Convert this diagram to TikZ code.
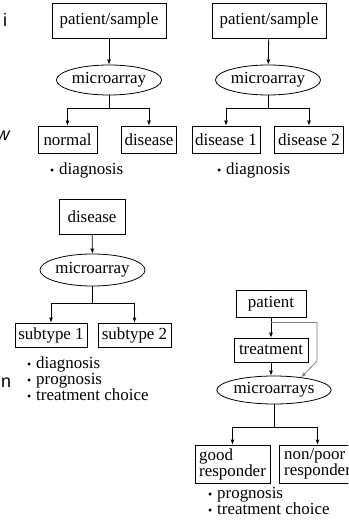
\documentclass[tikz,border=0pt]{standalone}
\usepackage{fontspec}
\setmainfont{Liberation Serif}
\newfontfamily\sidefont{Liberation Sans}
\usetikzlibrary{arrows.meta,positioning,shapes.geometric,calc}
\newcommand{\boxfont}{\fontsize{17}{16}\selectfont}
\newcommand{\bul}{\makebox[9bp][l]{\fontsize{12}{12}\selectfont\textbullet}}
\tikzset{
  box/.style={draw, rectangle, inner xsep=3pt, inner ysep=0pt, minimum height=27bp, font=\boxfont, line width=0.8pt},
  ell/.style={draw, ellipse, inner sep=0pt, minimum height=30bp, font=\boxfont, line width=0.8pt},
  arr/.style={-{Latex[length=5bp, width=4bp]}, line width=0.8pt},
  ln/.style={line width=0.8pt},
  note/.style={anchor=west, align=left, inner sep=0pt, font=\boxfont},
  cut/.style={inner sep=0pt, font=\sidefont\fontsize{18}{18}\selectfont}
}
\begin{document}
\begin{tikzpicture}[x=1bp, y=-1bp]
  \useasboundingbox (0,0) rectangle (348,525);
  \clip (0,0) rectangle (348,525);
  % normal vs disease
  \node[box, minimum width=114bp, minimum height=35bp] (ps1) at (109,20.5) {patient/sample};
  \node[ell, minimum width=101bp] (ma1) at (109,80) {microarray};
  \node[box, minimum width=59bp] (nor) at (67.5,139.5) {normal};
  \node[box, minimum width=55bp] (dis1) at (149,139.5) {disease};
  \coordinate (j1) at (109,108);
  \draw[arr] (ps1) -- (ma1);
  \draw[ln] (ma1) -- (j1);
  \draw[arr] (j1) -| (nor);
  \draw[arr] (j1) -| (dis1);
  \node[note] (dg1) at (50,170) {\bul diagnosis};
  % disease 1 vs disease 2
  \node[box, minimum width=114bp, minimum height=35bp] (ps2) at (269,20.5) {patient/sample};
  \node[ell, minimum width=100bp] (ma2) at (268,80) {microarray};
  \node[box, minimum width=68bp] (d1) at (226,139.5) {disease 1};
  \node[box, minimum width=69bp] (d2) at (309,139.5) {disease 2};
  \coordinate (j2) at (268,108);
  \draw[arr] (ps2) -- (ma2);
  \draw[ln] (ma2) -- (j2);
  \draw[arr] (j2) -| (d1);
  \draw[arr] (j2) -| (d2);
  \node[note] (dg2) at (217,170) {\bul diagnosis};
  % subtypes
  \node[box, minimum width=66bp, minimum height=35bp] (dis3) at (92,216.5) {disease};
  \node[ell, minimum width=101bp, minimum height=32bp] (ma3) at (92.5,270) {microarray};
  \node[box, minimum width=72bp, minimum height=24bp] (st1) at (51,335) {subtype 1};
  \node[box, minimum width=73bp, minimum height=24bp] (st2) at (134.5,335) {subtype 2};
  \coordinate (j3) at (92.5,303);
  \draw[arr] (dis3) -- (ma3);
  \draw[ln] (ma3) -- (j3);
  \draw[arr] (j3) -| (st1);
  \draw[arr] (j3) -| (st2);
  \node[note] (ls3) at (27,378.5) {\bul diagnosis\\\bul prognosis\\\bul treatment choice};
  % responders
  \node[box, minimum width=70bp] (pat) at (271,303.5) {patient};
  \node[box, minimum width=74bp, minimum height=24bp] (trt) at (271,350) {treatment};
  \node[ell, minimum width=102bp, minimum height=28bp] (ma4) at (274,390) {microarrays};
  \node[box, minimum width=75bp, minimum height=38bp, align=left] (gr) at (232.5,464) {good\\responder};
  \node[box, minimum width=77bp, minimum height=38bp, align=left] (np) at (317.5,464) {non/poor\\responder};
  \coordinate (j4) at (274,427);
  \coordinate (g0) at ($(pat.south)+(0,5)$);
  \coordinate (g1) at (317,361);
  \draw[arr] (pat) -- (trt);
  \draw[arr] (trt.south) -- (trt.south |- ma4.north);
  \draw[arr, gray] (g0) -| (g1) -- (ma4.25);
  \draw[ln] (ma4) -- (j4);
  \draw[arr] (j4) -| (gr);
  \draw[arr] (j4) -| (np);
  \node[note] (ls4) at (208,501) {\bul prognosis\\\bul treatment choice};
  % clipped letters at the left edge
  \node[cut] (ci) at (5,20) {i};
  \node[cut, font=\sidefont\itshape\fontsize{18}{18}\selectfont] (cw) at (3,136) {w};
  \node[cut] (cn) at (6,383) {n};
\end{tikzpicture}
\end{document}
